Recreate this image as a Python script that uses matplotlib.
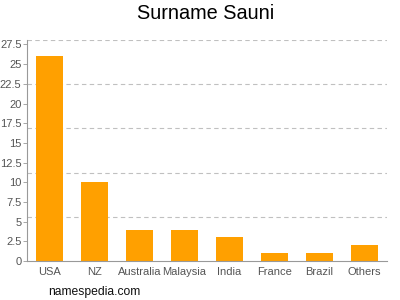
import numpy as np
import matplotlib
matplotlib.use('Agg')
import matplotlib.pyplot as plt

countries = ['USA', 'NZ', 'Australia', 'Malaysia', 'India', 'France', 'Brazil', 'Others']
counts = [26, 10, 4, 4, 3, 1, 1, 2]
yticks = [0, 2.5, 5, 7.5, 10, 12.5, 15, 17.5, 20, 22.5, 25, 27.5]

plt.rcParams['font.family'] = ['Liberation Sans', 'DejaVu Sans']

fig = plt.figure(figsize=(4, 3), dpi=100)
ax = fig.add_axes([0.0675, 0.13, 0.9, 0.737])

x = np.arange(len(countries))
ax.bar(x, counts, width=0.62, color='#ffa000', zorder=2)

ymax = max(counts) * 1.08
ax.set_ylim(0, ymax)
ax.set_xlim(-0.5, len(countries) - 0.5)

# dashed grid lines split the axis in five, independent of the ticks
for k in range(1, 6):
    ax.axhline(ymax * k / 5, color='#c0c0c0', linestyle=(0, (4, 3)), linewidth=0.8, zorder=1)

ax.set_yticks(yticks)
ax.set_yticklabels([f'{t:g}' for t in yticks])
ax.set_xticks(x)
ax.set_xticklabels(countries)
ax.tick_params(axis='y', length=3, width=0.6, color='#999999', labelsize=8, labelcolor='#555555', pad=1)
ax.tick_params(axis='x', length=0, labelsize=8, labelcolor='#555555', pad=4)

for side in ['top', 'right']:
    ax.spines[side].set_visible(False)
for side in ['left', 'bottom']:
    ax.spines[side].set_color('#999999')
    ax.spines[side].set_linewidth(0.8)

fig.text(0.515, 0.955, 'Surname Sauni', ha='center', va='center', fontsize=14.3, color='#000000')
fig.text(0.12, 0.027, 'namespedia.com', ha='left', va='center', fontsize=8.7, color='#111111')

fig.savefig('out.png', dpi=100)
